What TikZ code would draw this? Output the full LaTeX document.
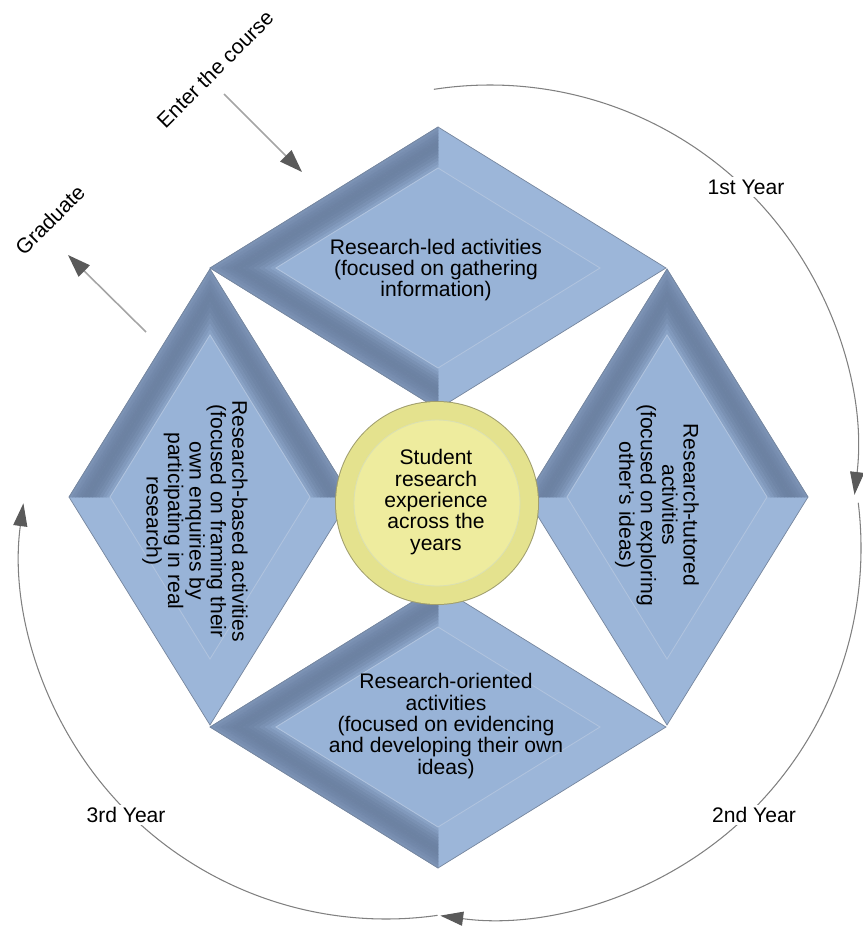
\documentclass[tikz,border=0pt]{standalone}
\usepackage{fontspec}
\setmainfont{Liberation Sans}
\usetikzlibrary{arrows.meta}

\definecolor{facecol}{RGB}{152,179,215}
\definecolor{facelight}{RGB}{156,182,217}
\definecolor{bevdark}{RGB}{98,118,150}
\definecolor{faceedge}{RGB}{176,195,222}
\definecolor{rimedge}{RGB}{118,134,158}
\definecolor{corefill}{RGB}{238,236,158}
\definecolor{coredark}{RGB}{228,226,142}
\definecolor{coreedge}{RGB}{160,158,110}
\definecolor{arcgray}{RGB}{128,128,128}
\definecolor{pathgray}{RGB}{165,165,165}
\definecolor{headgray}{RGB}{90,90,90}

\tikzset{
  every node/.style={font=\fontsize{12}{12.2}\selectfont},
  phase/.style={align=center, inner sep=0pt},
  yearlabel/.style={fill=white, inner sep=1.5pt},
  cyclearc/.style={draw=arcgray, line width=0.6pt, -{Triangle[length=13pt, width=8pt, color=headgray]}},
  moveline/.style={draw=pathgray, line width=0.9pt, -{Triangle[length=13pt, width=9pt, color=headgray]}},
}

% bevelled diamond: centre x, centre y, rotation
\newcommand\facet[3]{%
  \begin{scope}[shift={(#1,#2)}, rotate=#3]
    \fill[facelight] (0,-141) -- (228,0) -- (0,141) -- cycle;
    \foreach \i/\p in {0/52,1/62,2/70,3/76,4/80,5/81,6/79,7/74,8/66,9/55,10/42,11/28}{
      \pgfmathsetmacro\sa{1-0.29*\i/12}
      \pgfmathsetmacro\sb{1-0.29*(\i+1)/12}
      \path[fill=bevdark!\p!facecol, draw=bevdark!\p!facecol, line width=0.3pt]
        (0,-141*\sa) -- (-228*\sa,0) -- (0,141*\sa) -- (0,141*\sb) -- (-228*\sb,0) -- (0,-141*\sb) -- cycle;
    }
    \fill[facecol] (0,-100) -- (-162,0) -- (0,100) -- (162,0) -- cycle;
    \draw[faceedge, line width=0.5pt] (0,-100) -- (-162,0) -- (0,100) -- (162,0) -- cycle;
    \draw[rimedge, line width=0.4pt] (0,-141) -- (-228,0) -- (0,141) -- (228,0) -- cycle;
  \end{scope}}

\begin{document}
\begin{tikzpicture}[x=0.02cm, y=-0.02cm]
  \useasboundingbox (0,0) rectangle (862,926);

  % year cycle
  \coordinate (ca) at (490,452);
  \coordinate (cb) at (490,548);
  \coordinate (cc) at (386,553);
  \draw [cyclearc] (ca) ++(-98.8:367) arc [start angle=-98.8, end angle=6.7, radius=367];
  \draw [cyclearc] (cb) ++(-7:371) arc [start angle=-7, end angle=97.7, radius=371];
  \draw [cyclearc] (cc) ++(81.9:366) arc [start angle=81.9, end angle=187.8, radius=366];
  \node [yearlabel] (first) at (746,187) {1st Year};
  \node [yearlabel] (second) at (754,815) {2nd Year};
  \node [yearlabel] (third) at (126,815) {3rd Year};

  \facet{438}{268}{0}
  \facet{438}{727}{0}
  \facet{210}{497}{-90}
  \facet{667}{497}{-90}

  \fill [coreedge] (437,503) circle [radius=102];
  \fill [coredark] (437,503) circle [radius=101];
  \fill [corefill] (437,503) circle [radius=83];
  \draw [faceedge!30!corefill, line width=0.5pt] (437,503) circle [radius=83];

  \node [phase] (led) at (436,270) {Research-led activities\\(focused on gathering\\information)};
  \node [phase] (oriented) at (446,726) {Research-oriented\\activities\\(focused on evidencing\\and developing their own\\ideas)};
  \node [phase, rotate=-90] (based) at (195,521) {Research-based activities\\(focused on framing their\\own enquiries by\\participating in real\\research)};
  \node [phase, rotate=-90] (tutored) at (657,505) {Research-tutored\\activities\\(focused on exploring\\other’s ideas)};
  \node [phase] (core) at (436,502) {Student\\research\\experience\\across the\\years};

  \node [rotate=45] (enter) at (215,69) {Enter the course};
  \node [rotate=45] (grad) at (50,220) {Graduate};
  \coordinate (enterA) at (224,94);
  \coordinate (enterB) at (302,172);
  \coordinate (gradA) at (146,332);
  \coordinate (gradB) at (68,255);
  \draw [moveline] (enterA) -- (enterB);
  \draw [moveline] (gradA) -- (gradB);
\end{tikzpicture}
\end{document}
